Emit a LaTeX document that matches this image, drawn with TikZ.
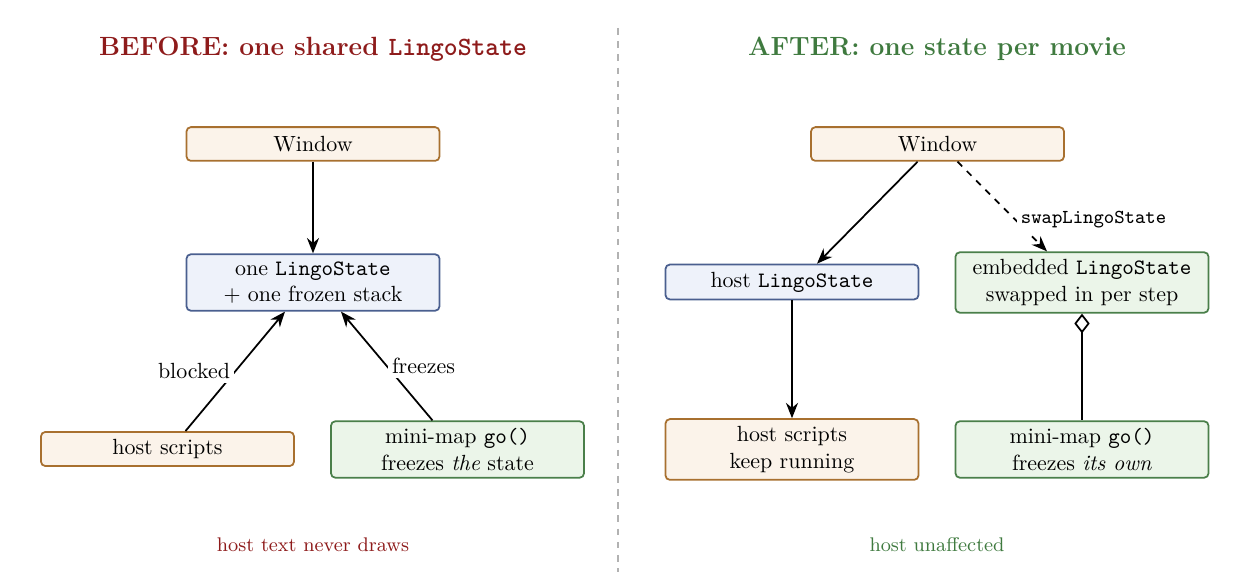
\documentclass[tikz,border=0pt]{standalone}
\usetikzlibrary{arrows.meta, positioning, calc}
\definecolor{oldred}{HTML}{8E1B1B}
\definecolor{newgreen}{HTML}{3F7A3F}
\definecolor{winfill}{HTML}{FBF3EA}
\definecolor{windraw}{HTML}{A8702F}
\definecolor{statefill}{HTML}{EEF2FA}
\definecolor{statedraw}{HTML}{4A5F8F}
\definecolor{embfill}{HTML}{EBF5E9}
\definecolor{embdraw}{HTML}{4A7F4A}
\tikzset{
  box/.style     = {draw, rectangle, rounded corners=2pt, align=center,
                    thick, minimum width=4.05cm, minimum height=0.54cm},
  hostbox/.style = {box, fill=winfill, draw=windraw},
  statebox/.style= {box, fill=statefill, draw=statedraw},
  embbox/.style  = {box, fill=embfill, draw=embdraw},
  arr/.style     = {-{Stealth[length=7pt, width=5.5pt]}, thick},
  has/.style     = {{Diamond[open, length=9pt, width=7pt]}-, thick},
  lbl/.style     = {fill=white, inner sep=2pt},
  ttl/.style     = {font=\large\bfseries},
  note/.style    = {font=\small}
}

\begin{document}
\begin{tikzpicture}[x=0.016cm, y=-0.016cm]
  \useasboundingbox (0,0) rectangle (1254,572);

  % ── divider ───────────────────────────────────────────────────────────────
  \coordinate (DivTop) at (618,28);
  \coordinate (DivBot) at (618,572);
  \draw[dashed, gray!60, semithick] (DivTop) -- (DivBot);

  % ── BEFORE ────────────────────────────────────────────────────────────────
  \node[ttl, text=oldred] (TitleL) at (313,49) {BEFORE: one shared \texttt{LingoState}};

  \node[hostbox]  (WinL)    at (313,144)   {Window};
  \node[statebox] (StateL)  at (313,282.5) {one \texttt{LingoState}\\+ one frozen stack};
  \node[hostbox]  (HostL)   at (167.5,449) {host scripts};
  \node[embbox]   (MiniL)   at (457.5,449.5) {mini-map \texttt{go()}\\freezes \emph{the} state};

  \draw[arr] (WinL) -- (StateL);
  \draw[arr] ($(HostL.north)+(18,0)$) -- ($(StateL.south)+(-28,0)$)
       node[lbl, midway, left] {blocked};
  \draw[arr] ($(MiniL.north)+(-25,0)$) -- ($(StateL.south)+(28,0)$)
       node[lbl, midway, right] {freezes};

  \node[note, text=oldred] (NoteL) at (313,545) {host text never draws};

  % ── AFTER ─────────────────────────────────────────────────────────────────
  \node[ttl, text=newgreen] (TitleR) at (937,49) {AFTER: one state per movie};

  \node[hostbox]  (WinR)    at (937.5,144) {Window};
  \node[statebox] (StateR)  at (792,282)   {host \texttt{LingoState}};
  \node[embbox]   (EmbR)    at (1082,282.5) {embedded \texttt{LingoState}\\swapped in per step};
  \node[hostbox]  (HostR)   at (792,449.5) {host scripts\\keep running};
  \node[embbox]   (MiniR)   at (1082,449.5) {mini-map \texttt{go()}\\freezes \emph{its own}};

  \draw[arr] ($(WinR.south)+(-20,0)$) -- ($(StateR.north)+(25,0)$);
  \draw[arr, dashed] ($(WinR.south)+(20,0)$) -- ($(EmbR.north)+(-35,0)$)
       node[lbl, pos=0.65, right, font=\small\ttfamily] {swapLingoState};
  \draw[arr] (StateR) -- (HostR);
  \draw[has] (EmbR) -- (MiniR);

  \node[note, text=newgreen] (NoteR) at (937,545) {host unaffected};
\end{tikzpicture}
\end{document}
